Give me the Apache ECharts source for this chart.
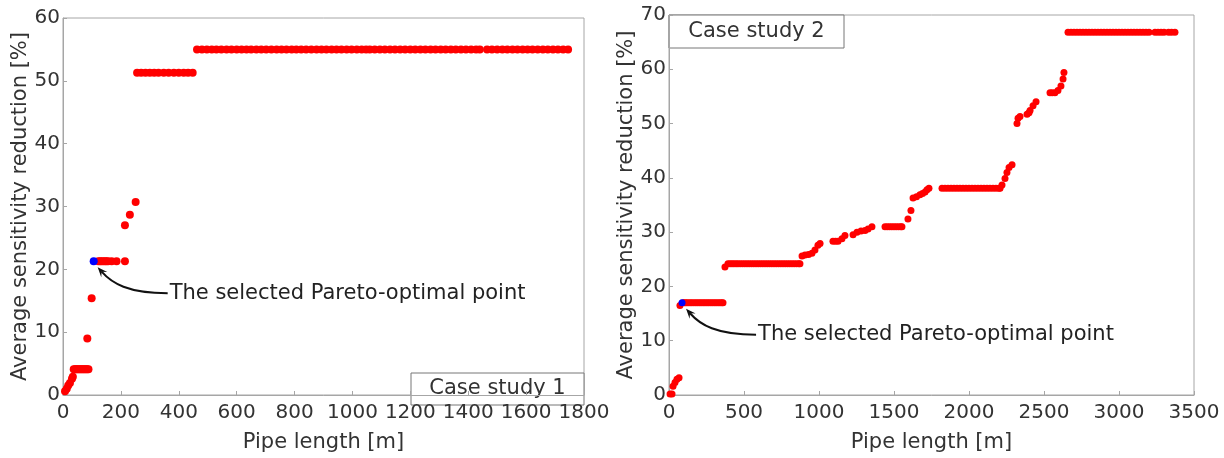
<!DOCTYPE html>
<html>
<head>
<meta charset="utf-8">
<script src="https://cdn.jsdelivr.net/npm/echarts@6/dist/echarts.min.js"></script>
<style>
  html, body { margin: 0; padding: 0; background: #fff; }
  #chart { width: 1224px; height: 458px; }
</style>
</head>
<body>
<div id="chart"></div>
<script>
// Case study 1 : Pareto front (pipe length [m], sensitivity reduction [%])
const caseOnePoints = [
  [7, 0.6], [13, 1.0], [18, 1.5], [24, 1.9], [31, 2.6], [34, 2.9],
  [37, 4.1], [41, 4.1], [45, 4.1], [48, 4.1], [52, 4.1], [56, 4.1], [60, 4.1], [64, 4.1],
  [68, 4.1], [72, 4.1], [76, 4.1], [80, 4.1], [84, 4.1], [88, 4.1],
  [84, 9.0], [99, 15.4],
  [122, 21.3], [128, 21.3], [133, 21.3], [139, 21.3], [145, 21.3], [150, 21.3], [156, 21.3],
  [168, 21.3], [185, 21.3], [214, 21.3],
  [214, 27.0], [231, 28.7], [251, 30.7],
  [256, 51.3], [270, 51.3], [285, 51.3], [300, 51.3], [315, 51.3], [330, 51.3], [348, 51.3],
  [365, 51.3], [383, 51.3], [400, 51.3], [417, 51.3], [432, 51.3], [448, 51.3],
  [463, 55.0], [480, 55.0], [497, 55.0], [514, 55.0], [530, 55.0], [547, 55.0], [565, 55.0],
  [582, 55.0], [600, 55.0], [617, 55.0], [634, 55.0], [650, 55.0], [668, 55.0], [685, 55.0],
  [702, 55.0], [720, 55.0], [738, 55.0], [755, 55.0], [772, 55.0], [790, 55.0], [806, 55.0],
  [823, 55.0], [840, 55.0], [858, 55.0], [876, 55.0], [893, 55.0], [910, 55.0], [928, 55.0],
  [945, 55.0], [962, 55.0], [980, 55.0], [997, 55.0], [1015, 55.0], [1032, 55.0], [1047, 55.0],
  [1060, 55.0], [1077, 55.0], [1095, 55.0], [1112, 55.0], [1130, 55.0], [1147, 55.0], [1165, 55.0],
  [1182, 55.0], [1200, 55.0], [1217, 55.0], [1235, 55.0], [1252, 55.0], [1270, 55.0], [1287, 55.0],
  [1305, 55.0], [1322, 55.0], [1340, 55.0], [1357, 55.0], [1375, 55.0], [1392, 55.0], [1410, 55.0],
  [1427, 55.0], [1440, 55.0],
  [1465, 55.0], [1482, 55.0], [1500, 55.0], [1518, 55.0], [1535, 55.0], [1553, 55.0], [1570, 55.0],
  [1588, 55.0], [1605, 55.0], [1622, 55.0], [1640, 55.0], [1658, 55.0], [1675, 55.0], [1693, 55.0],
  [1710, 55.0], [1728, 55.0], [1745, 55.0]
];
const caseOneSelected = [[106, 21.3]];

// Case study 2
const caseTwoPoints = [
  [7, 0.2], [20, 0.2], [27, 1.6], [40, 2.3], [53, 2.9], [67, 3.2], [73, 16.5],
  [95, 17.0], [105, 17.0], [115, 17.0], [127, 17.0], [140, 17.0], [152, 17.0], [165, 17.0],
  [178, 17.0], [190, 17.0], [203, 17.0], [215, 17.0], [228, 17.0], [240, 17.0], [253, 17.0],
  [265, 17.0], [278, 17.0], [290, 17.0], [303, 17.0], [315, 17.0], [328, 17.0], [340, 17.0],
  [352, 17.0], [360, 17.0],
  [373, 23.6], [393, 24.2], [407, 24.2], [420, 24.2], [433, 24.2], [447, 24.2], [460, 24.2],
  [475, 24.2], [490, 24.2], [505, 24.2], [520, 24.2], [535, 24.2], [550, 24.2], [565, 24.2],
  [580, 24.2], [595, 24.2], [610, 24.2], [625, 24.2], [640, 24.2], [655, 24.2], [670, 24.2],
  [685, 24.2], [700, 24.2], [715, 24.2], [730, 24.2], [745, 24.2], [760, 24.2], [775, 24.2],
  [790, 24.2], [805, 24.2], [820, 24.2], [835, 24.2], [850, 24.2], [865, 24.2], [873, 24.2],
  [887, 25.6], [907, 25.8], [930, 25.9], [953, 26.1], [973, 26.7], [993, 27.6], [1007, 27.9],
  [1093, 28.3], [1110, 28.3], [1127, 28.3], [1153, 28.8], [1173, 29.4], [1227, 29.5],
  [1253, 30.0], [1280, 30.2], [1307, 30.3], [1327, 30.6], [1353, 31.0],
  [1440, 31.0], [1455, 31.0], [1470, 31.0], [1485, 31.0], [1500, 31.0], [1515, 31.0],
  [1530, 31.0], [1545, 31.0], [1553, 31.0],
  [1593, 32.4], [1613, 34.0], [1627, 36.3], [1650, 36.5], [1673, 36.9], [1690, 37.1],
  [1707, 37.4], [1720, 37.8], [1733, 38.1],
  [1820, 38.1], [1840, 38.1], [1860, 38.1], [1880, 38.1], [1900, 38.1], [1920, 38.1],
  [1940, 38.1], [1960, 38.1], [1980, 38.1], [2000, 38.1], [2020, 38.1], [2040, 38.1],
  [2060, 38.1], [2080, 38.1], [2100, 38.1], [2120, 38.1], [2140, 38.1], [2160, 38.1],
  [2180, 38.1], [2200, 38.1], [2207, 38.1],
  [2220, 38.7], [2240, 39.9], [2253, 41.0], [2267, 41.9], [2287, 42.4],
  [2320, 50.0], [2327, 51.0], [2340, 51.3], [2387, 51.7], [2400, 52.0], [2407, 52.4],
  [2427, 53.3], [2447, 54.0],
  [2540, 55.7], [2555, 55.7], [2573, 55.7], [2593, 56.1], [2613, 56.9], [2627, 58.2], [2633, 59.4],
  [2660, 66.8], [2680, 66.8], [2700, 66.8], [2720, 66.8], [2740, 66.8], [2760, 66.8], [2780, 66.8],
  [2800, 66.8], [2820, 66.8], [2840, 66.8], [2860, 66.8], [2880, 66.8], [2900, 66.8], [2920, 66.8],
  [2940, 66.8], [2960, 66.8], [2980, 66.8], [3000, 66.8], [3020, 66.8], [3040, 66.8], [3060, 66.8],
  [3080, 66.8], [3100, 66.8], [3120, 66.8], [3140, 66.8], [3160, 66.8], [3180, 66.8], [3200, 66.8],
  [3240, 66.8], [3260, 66.8], [3280, 66.8], [3300, 66.8], [3330, 66.8], [3350, 66.8], [3373, 66.8]
];
const caseTwoSelected = [[87, 17.0]];

const xTitle = "Pipe length [m]";
const yTitle = "Average sensitivity reduction [%]";
const noteText = "The selected Pareto-optimal point";

const FONT = "DejaVu Sans";
const gray = "#a6a6a6";
const txt = "#333333";

function xAxisCfg(idx, max, step) {
  return {
    gridIndex: idx, type: "value", min: 0, max: max, interval: step,
    name: xTitle, nameLocation: "middle", nameGap: 37,
    nameTextStyle: { fontFamily: FONT, fontSize: 21, color: txt },
    axisLine: { lineStyle: { color: gray } },
    axisTick: { inside: true, length: 4, lineStyle: { color: gray } },
    axisLabel: { fontFamily: FONT, fontSize: 20, color: txt, margin: 8, formatter: (v) => String(v) },
    splitLine: { show: false }
  };
}
function yAxisCfg(idx, max, gap) {
  return {
    gridIndex: idx, type: "value", min: 0, max: max, interval: 10,
    name: yTitle, nameLocation: "middle", nameGap: gap,
    nameTextStyle: { fontFamily: FONT, fontSize: 21, color: txt },
    axisLine: { lineStyle: { color: gray } },
    axisTick: { inside: true, length: 4, lineStyle: { color: gray } },
    axisLabel: { fontFamily: FONT, fontSize: 20, color: txt, margin: 3 },
    splitLine: { show: false }
  };
}

const chart = echarts.init(document.getElementById("chart"), null, { renderer: "canvas" });
chart.setOption({
  animation: false,
  backgroundColor: "#ffffff",
  grid: [
    { left: 63, top: 18, width: 521, height: 387, show: true, borderColor: gray, borderWidth: 1 },
    { left: 669, top: 15, width: 525, height: 391, show: true, borderColor: gray, borderWidth: 1 }
  ],
  xAxis: [xAxisCfg(0, 1800, 200), xAxisCfg(1, 3500, 500)],
  yAxis: [yAxisCfg(0, 60, 31), yAxisCfg(1, 70, 27)],
  series: [
    { type: "scatter", xAxisIndex: 0, yAxisIndex: 0, data: caseOnePoints,
      symbolSize: 8, itemStyle: { color: "#ff0000", opacity: 1 } },
    { type: "scatter", xAxisIndex: 0, yAxisIndex: 0, data: caseOneSelected,
      symbolSize: 8, itemStyle: { color: "#0000ff", opacity: 1 }, z: 3 },
    { type: "scatter", xAxisIndex: 1, yAxisIndex: 1, data: caseTwoPoints,
      symbolSize: 7, itemStyle: { color: "#ff0000", opacity: 1 } },
    { type: "scatter", xAxisIndex: 1, yAxisIndex: 1, data: caseTwoSelected,
      symbolSize: 7, itemStyle: { color: "#0000ff", opacity: 1 }, z: 3 }
  ]
});

// arrow + label, anchored on the selected point
function annotation(gridIndex, point) {
  const p = chart.convertToPixel({ gridIndex: gridIndex }, point);
  const tip = [p[0] + 4, p[1] + 6];
  const tail = [p[0] + 74, p[1] + 32];
  const cp1 = [tail[0] - 40, tail[1]];
  const cp2 = [tip[0] + 14, tip[1] + 16];
  // arrow head direction
  const dx = tip[0] - cp2[0], dy = tip[1] - cp2[1];
  const len = Math.sqrt(dx * dx + dy * dy);
  const ux = dx / len, uy = dy / len;
  const hl = 10, hw = 4;
  const bx = tip[0] - ux * hl, by = tip[1] - uy * hl;
  return [
    { type: "bezierCurve", silent: true,
      shape: { x1: tail[0], y1: tail[1], x2: tip[0] - ux * 6, y2: tip[1] - uy * 6,
               cpx1: cp1[0], cpy1: cp1[1], cpx2: cp2[0], cpy2: cp2[1] },
      style: { stroke: "#111", lineWidth: 2, fill: null } },
    { type: "polygon", silent: true,
      shape: { points: [tip, [bx - uy * hw, by + ux * hw], [tip[0] - ux * 6, tip[1] - uy * 6], [bx + uy * hw, by - ux * hw]] },
      style: { fill: "#111" } },
    { type: "text", silent: true, x: tail[0] + 2, y: tail[1],
      style: { text: noteText, font: "21px '" + FONT + "'", fill: "#222", verticalAlign: "middle", align: "left" } }
  ];
}

function caseBox(x, y, w, h, label) {
  return {
    type: "group", x: x, y: y, silent: true,
    children: [
      { type: "rect", shape: { x: 0, y: 0, width: w, height: h },
        style: { fill: "#fff", stroke: "#777", lineWidth: 1 } },
      { type: "text", x: w / 2, y: h / 2,
        style: { text: label, font: "21px '" + FONT + "'", fill: txt, align: "center", verticalAlign: "middle" } }
    ]
  };
}

chart.setOption({
  graphic: [].concat(
    annotation(0, caseOneSelected[0]),
    annotation(1, caseTwoSelected[0]),
    [caseBox(411, 373, 173, 32, "Case study 1"), caseBox(669, 15, 175, 33, "Case study 2")]
  )
});
</script>
</body>
</html>
